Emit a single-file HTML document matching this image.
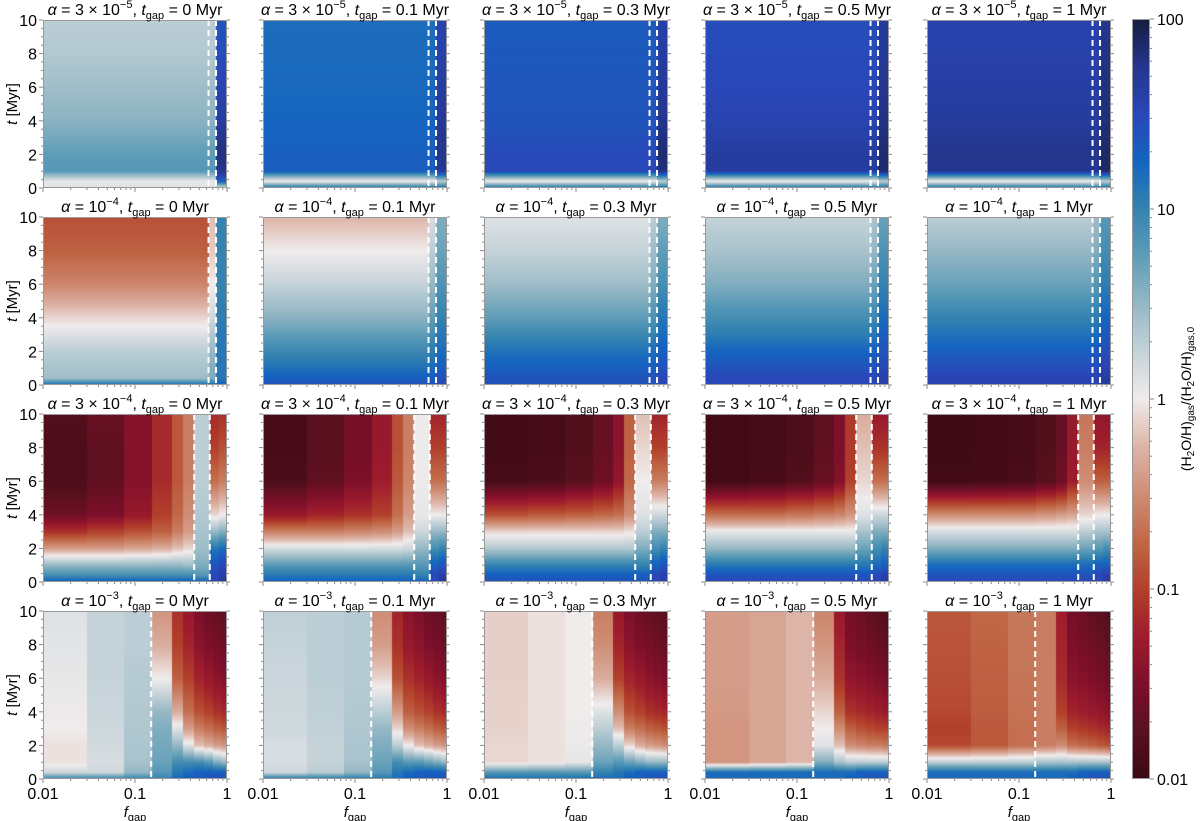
<!DOCTYPE html>
<html><head><meta charset="utf-8">
<style>
html,body{margin:0;padding:0;background:#fff;}
#wrap{position:relative;width:1200px;height:821px;overflow:hidden;font-family:"Liberation Sans","DejaVu Sans",sans-serif;}
canvas{position:absolute;}
svg{position:absolute;left:0;top:0;}
</style></head>
<body>
<div id="wrap">
<svg id="ov" width="1200" height="821"></svg>
</div>
<script>
// ---- data (log10 of ratio) ----
const T = [0,0.4,1,2,3,4,6,8,10];
const edgesR12 = [-2,-0.2,-0.12,0];
const edgesR3 = [-2,-1.52,-1.12,-0.82,-0.6,-0.48,-0.36,-0.19,-0.09,0];
const edgesR4 = [-2,-1.52,-1.12,-0.82,-0.6,-0.48,-0.36,-0.25,-0.15,-0.07,0];
const dashR12 = [0.63,0.76];
const dashR3 = [0.44,0.65];
const dashR4 = [0.15];
const alphaLabels = ["3e-5","1e-4","3e-4","1e-3"];
const tgapLabels = ["0","0.1","0.3","0.5","1"];

const r1c1=[[0.1,0.05,0.8,0.75,0.65,0.55,0.45,0.35,0.3],[0.1,0.05,0.8,0.75,0.65,0.55,0.45,0.35,0.3],[0.1,1.3,1.75,1.8,1.75,1.65,1.55,1.45,1.4]];
const r1c2=[[1.2,0,1.32,1.3,1.27,1.25,1.22,1.2,1.18],[1.2,0,1.32,1.3,1.27,1.25,1.22,1.2,1.18],[1.2,0.3,1.7,1.75,1.75,1.7,1.65,1.6,1.55]];
const r1c3=[[1.2,0,1.5,1.47,1.43,1.4,1.37,1.35,1.33],[1.2,0,1.5,1.47,1.43,1.4,1.37,1.35,1.33],[1.2,0.3,1.8,1.85,1.8,1.75,1.7,1.65,1.6]];
const r1c4=[[1.2,0,1.65,1.65,1.6,1.55,1.5,1.47,1.45],[1.2,0,1.65,1.65,1.6,1.55,1.5,1.47,1.45],[1.2,0.3,1.85,1.85,1.82,1.78,1.75,1.7,1.68]];
const r1c5=[[1.2,0,1.74,1.76,1.72,1.67,1.62,1.59,1.57],[1.2,0,1.74,1.76,1.72,1.67,1.62,1.59,1.57],[1.2,0.3,1.88,1.88,1.85,1.82,1.8,1.78,1.75]];
const r2c1=[[1.2,0.45,0.4,0.3,0.1,-0.1,-0.55,-0.8,-0.9],[1.2,0.6,0.6,0.5,0.35,0.2,0.0,-0.15,-0.2],[1.3,1.1,1.1,1.1,1.1,1.05,1.0,1.0,1.0]];
const r2c2=[[1.4,1.3,1.15,0.95,0.75,0.55,0.25,0,-0.25],[1.4,1.3,1.2,1.05,0.9,0.75,0.5,0.3,0.15],[1.5,1.4,1.3,1.2,1.1,1.0,0.85,0.7,0.6]];
const r2c3=[[1.4,1.4,1.3,1.15,0.95,0.75,0.45,0.25,0.1],[1.4,1.4,1.3,1.2,1.0,0.85,0.6,0.45,0.3],[1.5,1.5,1.4,1.3,1.2,1.1,0.9,0.75,0.6]];
const r2c4=[[1.5,1.5,1.4,1.25,1.05,0.9,0.6,0.4,0.25],[1.5,1.5,1.4,1.3,1.1,0.95,0.7,0.5,0.4],[1.6,1.6,1.5,1.4,1.3,1.2,1.0,0.85,0.7]];
const r2c5=[[1.55,1.55,1.45,1.3,1.15,1.0,0.7,0.5,0.3],[1.55,1.55,1.45,1.35,1.2,1.05,0.8,0.6,0.45],[1.65,1.65,1.55,1.45,1.35,1.25,1.05,0.9,0.8]];
const r3c1=[[1.3,0.9,0.5,-0.4,-1.1,-1.6,-1.85,-1.85,-1.8],[1.3,0.9,0.5,-0.4,-1.0,-1.5,-1.7,-1.7,-1.65],[1.3,0.9,0.5,-0.35,-0.9,-1.3,-1.45,-1.45,-1.45],[1.3,0.9,0.5,-0.3,-0.8,-1.0,-1.15,-1.15,-1.15],[1.3,0.9,0.5,-0.2,-0.6,-0.75,-0.85,-0.85,-0.85],[1.3,0.9,0.45,-0.1,-0.4,-0.5,-0.6,-0.6,-0.6],[1.3,0.8,0.6,0.45,0.4,0.35,0.3,0.3,0.3],[1.5,1.5,1.4,1.1,0.5,-0.1,-0.7,-1.0,-1.15],[1.7,1.6,1.5,1.2,0.6,0.0,-0.6,-0.9,-1.1]];
const r3c2=[[1.3,1.1,0.8,0.15,-0.6,-1.3,-1.85,-1.9,-1.9],[1.3,1.1,0.8,0.15,-0.6,-1.2,-1.7,-1.75,-1.75],[1.3,1.1,0.8,0.15,-0.55,-1.1,-1.5,-1.55,-1.55],[1.3,1.1,0.8,0.15,-0.5,-1.0,-1.25,-1.3,-1.3],[1.3,1.1,0.8,0.15,-0.4,-0.7,-0.85,-0.9,-0.9],[1.3,1.1,0.8,0.2,-0.2,-0.4,-0.55,-0.6,-0.6],[1.3,1.0,0.8,0.5,0.2,0.05,0.02,0.02,0.02],[1.5,1.5,1.3,0.9,0.5,0.0,-0.7,-1.0,-1.2],[1.7,1.6,1.4,1.0,0.5,0.0,-0.7,-1.0,-1.2]];
const r3c3=[[1.4,1.3,1.0,0.35,-0.1,-0.9,-1.9,-1.95,-1.95],[1.4,1.3,1.0,0.35,-0.1,-0.85,-1.85,-1.9,-1.9],[1.4,1.3,1.0,0.35,-0.1,-0.8,-1.75,-1.8,-1.8],[1.4,1.3,1.0,0.35,-0.1,-0.75,-1.6,-1.65,-1.65],[1.4,1.3,1.0,0.35,-0.1,-0.7,-1.35,-1.4,-1.4],[1.4,1.3,1.0,0.35,-0.05,-0.5,-0.75,-0.8,-0.8],[1.4,1.3,1.0,0.6,0.3,0.1,0,-0.1,-0.2],[1.5,1.5,1.3,0.9,0.6,0.2,-0.6,-1.0,-1.2],[1.6,1.6,1.4,1.0,0.6,0.2,-0.6,-1.0,-1.2]];
const r3c4=[[1.5,1.4,1.1,0.5,0.05,-0.7,-1.95,-1.95,-1.95],[1.5,1.4,1.1,0.5,0.05,-0.7,-1.9,-1.92,-1.92],[1.5,1.4,1.1,0.5,0.05,-0.65,-1.8,-1.85,-1.85],[1.5,1.4,1.1,0.5,0.05,-0.6,-1.65,-1.7,-1.7],[1.5,1.4,1.1,0.5,0.05,-0.55,-1.45,-1.5,-1.5],[1.5,1.4,1.1,0.5,0.05,-0.45,-1.0,-1.05,-1.05],[1.5,1.4,1.1,0.7,0.4,0.1,-0.1,-0.2,-0.3],[1.5,1.5,1.2,0.9,0.6,0.2,-0.7,-1.1,-1.3],[1.6,1.6,1.3,1.0,0.6,0.2,-0.7,-1.1,-1.3]];
const r3c5=[[1.5,1.4,1.2,0.6,0.15,-0.5,-1.95,-1.97,-1.97],[1.5,1.4,1.2,0.6,0.15,-0.5,-1.93,-1.95,-1.95],[1.5,1.4,1.2,0.6,0.15,-0.5,-1.88,-1.9,-1.9],[1.5,1.4,1.2,0.6,0.15,-0.45,-1.75,-1.8,-1.8],[1.5,1.4,1.2,0.6,0.15,-0.4,-1.6,-1.65,-1.65],[1.5,1.4,1.2,0.6,0.15,-0.35,-1.25,-1.3,-1.3],[1.5,1.4,1.2,0.7,0.3,-0.1,-0.5,-0.6,-0.65],[1.5,1.5,1.3,0.8,0.4,0,-0.8,-1.2,-1.35],[1.6,1.6,1.3,0.9,0.4,0,-0.8,-1.2,-1.35]];
const r4c1=[[1.0,0.2,-0.05,-0.05,0,0.02,0.05,0.08,0.1],[1.0,0.2,0.15,0.18,0.2,0.22,0.25,0.25,0.25],[1.0,0.5,0.4,0.38,0.36,0.35,0.33,0.3,0.3],[1.0,0.8,0.7,0.65,0.6,0.5,0,-0.3,-0.45],[1.2,1.1,0.9,0.5,0.1,-0.3,-0.8,-1.0,-1.1],[1.3,1.2,0.9,0.1,-0.4,-0.7,-1.0,-1.2,-1.3],[1.3,1.3,0.9,-0.2,-0.6,-0.9,-1.2,-1.4,-1.5],[1.4,1.3,0.8,-0.3,-0.7,-1.0,-1.3,-1.5,-1.6],[1.4,1.3,0.6,-0.4,-0.8,-1.1,-1.4,-1.55,-1.65],[1.4,1.3,0.5,-0.45,-0.85,-1.15,-1.45,-1.6,-1.7]];
const r4c2=[[1.1,0.2,0.15,0.15,0.2,0.2,0.22,0.25,0.28],[1.1,0.3,0.25,0.25,0.27,0.28,0.3,0.3,0.3],[1.1,0.5,0.4,0.38,0.36,0.35,0.33,0.33,0.33],[1.1,0.8,0.7,0.6,0.5,0.3,-0.1,-0.4,-0.5],[1.2,1.1,0.9,0.3,-0.1,-0.4,-0.9,-1.1,-1.2],[1.3,1.2,0.8,0,-0.5,-0.8,-1.1,-1.3,-1.4],[1.3,1.3,0.8,-0.2,-0.6,-0.9,-1.2,-1.4,-1.5],[1.4,1.3,0.7,-0.3,-0.7,-1.0,-1.3,-1.5,-1.6],[1.4,1.3,0.6,-0.4,-0.8,-1.1,-1.4,-1.55,-1.65],[1.4,1.3,0.5,-0.45,-0.85,-1.15,-1.45,-1.6,-1.7]];
const r4c3=[[1.2,0.8,-0.1,-0.1,-0.12,-0.12,-0.13,-0.13,-0.13],[1.2,0.8,-0.05,-0.05,-0.05,-0.05,-0.05,-0.05,-0.05],[1.2,0.8,0.05,0.03,0.02,0,0,0,0],[1.2,1.0,0.7,0.5,0.3,0.1,-0.3,-0.5,-0.6],[1.2,1.1,0.8,0.3,-0.2,-0.5,-1.0,-1.2,-1.3],[1.3,1.2,0.7,-0.1,-0.6,-0.9,-1.2,-1.4,-1.5],[1.3,1.3,0.6,-0.3,-0.7,-1.0,-1.3,-1.5,-1.6],[1.4,1.3,0.5,-0.4,-0.8,-1.1,-1.4,-1.55,-1.65],[1.4,1.3,0.5,-0.45,-0.85,-1.15,-1.45,-1.6,-1.7],[1.4,1.3,0.5,-0.5,-0.9,-1.2,-1.5,-1.65,-1.75]];
const r4c4=[[1.2,1.2,-0.45,-0.45,-0.45,-0.42,-0.4,-0.4,-0.4],[1.2,1.2,-0.35,-0.35,-0.35,-0.35,-0.35,-0.35,-0.35],[1.2,1.2,-0.25,-0.25,-0.25,-0.25,-0.25,-0.25,-0.25],[1.2,1.2,0.6,0.1,0,-0.1,-0.3,-0.45,-0.55],[1.2,1.2,0.4,-0.2,-0.5,-0.8,-1.1,-1.2,-1.3],[1.3,1.2,0.3,-0.5,-0.8,-1.1,-1.35,-1.5,-1.55],[1.3,1.3,0.3,-0.55,-0.9,-1.15,-1.4,-1.55,-1.6],[1.4,1.3,0.3,-0.6,-0.95,-1.2,-1.45,-1.6,-1.7],[1.4,1.3,0.3,-0.6,-1.0,-1.25,-1.5,-1.65,-1.75],[1.4,1.3,0.3,-0.65,-1.0,-1.3,-1.55,-1.7,-1.8]];
const r4c5=[[1.2,1.2,0.3,-0.95,-1.0,-0.95,-0.9,-0.88,-0.85],[1.2,1.2,0.3,-0.85,-0.85,-0.82,-0.8,-0.78,-0.75],[1.2,1.2,0.3,-0.7,-0.7,-0.68,-0.66,-0.65,-0.65],[1.2,1.2,0.4,-0.6,-0.6,-0.6,-0.6,-0.6,-0.6],[1.2,1.2,0.4,-0.5,-0.8,-1.0,-1.15,-1.2,-1.25],[1.3,1.2,0.4,-0.7,-1.0,-1.2,-1.4,-1.5,-1.55],[1.3,1.3,0.4,-0.75,-1.05,-1.25,-1.45,-1.55,-1.6],[1.4,1.3,0.4,-0.8,-1.1,-1.3,-1.5,-1.6,-1.7],[1.4,1.3,0.4,-0.85,-1.15,-1.35,-1.55,-1.65,-1.75],[1.4,1.3,0.4,-0.9,-1.2,-1.4,-1.6,-1.7,-1.8]];

const panelData = [[r1c1,r1c2,r1c3,r1c4,r1c5],[r2c1,r2c2,r2c3,r2c4,r2c5],[r3c1,r3c2,r3c3,r3c4,r3c5],[r4c1,r4c2,r4c3,r4c4,r4c5]];
const rowEdges = [edgesR12,edgesR12,edgesR3,edgesR4];
const rowDashes = [dashR12,dashR12,dashR3,dashR4];

// ---- layout ----
const X0=[43,263,484,705,927], PW=184;
const Y0=[20,217,414,611], PH=168;
const CB={x:1132,y:19,w:18,h:760};
const stops=[[-2,'#3c0913'],[-1.75,'#58101e'],[-1.5,'#7d0f2a'],[-1.25,'#9e1c2c'],[-1,'#b2402b'],[-0.75,'#c16848'],[-0.5,'#cf8d75'],[-0.25,'#ddb5a8'],[0,'#f0ecec'],[0.25,'#c5d3d9'],[0.5,'#96b8c5'],[0.75,'#5f9db8'],[1,'#3483b0'],[1.25,'#1565c0'],[1.5,'#2a47b8'],[1.75,'#24368f'],[2,'#161d3f']];
function hex(h){return [parseInt(h.substr(1,2),16),parseInt(h.substr(3,2),16),parseInt(h.substr(5,2),16)];}
function cmap(v){v=Math.max(-2,Math.min(2,v));for(let i=0;i<stops.length-1;i++){if(v<=stops[i+1][0]){const a=hex(stops[i][1]),b=hex(stops[i+1][1]);const f=(v-stops[i][0])/(stops[i+1][0]-stops[i][0]);return 'rgb('+a.map((c,k)=>Math.round(c+(b[k]-c)*f)).join(',')+')';}}return stops[stops.length-1][1];}
function interp(prof,t){for(let i=0;i<T.length-1;i++){if(t<=T[i+1]){const f=(t-T[i])/(T[i+1]-T[i]);return prof[i]+(prof[i+1]-prof[i])*f;}}return prof[prof.length-1];}

const wrap=document.getElementById('wrap');
const ov=document.getElementById('ov');
const NS='http://www.w3.org/2000/svg';
function el(tag,attrs,parent){const e=document.createElementNS(NS,tag);for(const k in attrs)e.setAttribute(k,attrs[k]);(parent||ov).appendChild(e);return e;}
function xs(c,lf){return X0[c]+(lf+2)/2*PW;}
function ys(r,t){return Y0[r]+PH-t/10*PH;}

for(let r=0;r<4;r++){for(let c=0;c<5;c++){
  const cv=document.createElement('canvas');
  cv.width=PW;cv.height=PH;cv.style.left=X0[c]+'px';cv.style.top=Y0[r]+'px';
  
  
  wrap.insertBefore(cv,ov);
  const ctx=cv.getContext('2d');
  const ed=rowEdges[r], profs=panelData[r][c];
  for(let b=0;b<profs.length;b++){
    const xa=Math.round(xs(c,ed[b])-X0[c]), xb=Math.round(xs(c,ed[b+1])-X0[c]);
    for(let py=0;py<PH;py++){
      const t=(PH-py-0.5)/PH*10;
      ctx.fillStyle=cmap(interp(profs[b],t));
      ctx.fillRect(xa,py,xb-xa,1);
    }
  }
  const g=el('g',{});
  
  
  for(const d of rowDashes[r]){
    const x=xs(c,Math.log10(d));
    const ln=el('line',{x1:x,x2:x,y1:Y0[r],y2:Y0[r]+PH,stroke:'#fff','stroke-width':2,'stroke-dasharray':'6,4'},g);
    
    
  }
  el('rect',{x:X0[c]+0.5,y:Y0[r]+0.5,width:PW-1,height:PH-1,fill:'none',stroke:'#999','stroke-width':1},g);
  for(let t=0;t<=10;t+=0.5){const y=ys(r,t);const maj=(t%2===0);
    el('line',{x1:X0[c]-(maj?4:2),x2:X0[c],y1:y,y2:y,stroke:'#888','stroke-width':1},g);
    el('line',{x1:X0[c]+PW,x2:X0[c]+PW+(maj?3:2),y1:y,y2:y,stroke:'#888','stroke-width':1},g);
    if(c===0&&maj){const tx=el('text',{x:X0[c]-6,y:y+6,'text-anchor':'end','font-size':16,fill:'#000'},g);tx.textContent=t;
      }
  }
  for(let d=-2;d<0;d++){for(let m=1;m<10;m++){const x=xs(c,d+Math.log10(m));
    el('line',{x1:x,x2:x,y1:Y0[r]+PH,y2:Y0[r]+PH+(m===1?4:2),stroke:'#888','stroke-width':1},g);}}
  el('line',{x1:xs(c,0),x2:xs(c,0),y1:Y0[r]+PH,y2:Y0[r]+PH+4,stroke:'#888','stroke-width':1},g);
  if(r===3){[['0.01',-2],['0.1',-1],['1',0]].forEach(([s,v])=>{const tx=el('text',{x:xs(c,v),y:Y0[r]+PH+20,'text-anchor':'middle','font-size':16},g);tx.textContent=s;
      });
    const xl=el('text',{x:X0[c]+PW/2,y:Y0[r]+PH+38,'text-anchor':'middle','font-size':15},g);
    xl.innerHTML='<tspan font-style="italic">f</tspan><tspan font-size="11" dy="4">gap</tspan>';
    }
  if(c===0){const yl=el('text',{x:0,y:0,transform:'translate(17,'+(Y0[r]+PH/2)+') rotate(-90)','text-anchor':'middle','font-size':15},g);
    yl.innerHTML='<tspan font-style="italic">t</tspan> [Myr]';
    }
  const al=alphaLabels[r];const pre=al.startsWith('3')?'3 × 10':'10';const ex=al.split('e')[1].replace('-','−');
  const ti=el('text',{x:X0[c]+PW/2,y:Y0[r]-5,'text-anchor':'middle','font-size':16},g);
  ti.innerHTML='<tspan font-style="italic">α</tspan> = '+pre+'<tspan font-size="11" dy="-7">'+ex+'</tspan><tspan dy="7">, </tspan><tspan font-style="italic">t</tspan><tspan font-size="11" dy="4">gap</tspan><tspan dy="-4"> = '+tgapLabels[c]+' Myr</tspan>';
  
}}

const cbc=document.createElement('canvas');cbc.width=CB.w;cbc.height=CB.h;cbc.style.left=CB.x+'px';cbc.style.top=CB.y+'px';


wrap.insertBefore(cbc,ov);
const cctx=cbc.getContext('2d');
for(let py=0;py<CB.h;py++){cctx.fillStyle=cmap(2-4*(py+0.5)/CB.h);cctx.fillRect(0,py,CB.w,1);}
el('rect',{x:CB.x+0.5,y:CB.y+0.5,width:CB.w-1,height:CB.h-1,fill:'none',stroke:'#999'});
const cbLabels=['100','10','1','0.1','0.01'];
for(let d=2;d>=-2;d--){const y=CB.y+(2-d)/4*CB.h;
  el('line',{x1:CB.x+CB.w,x2:CB.x+CB.w+4,y1:y,y2:y,stroke:'#888'});
  const tx=el('text',{x:CB.x+CB.w+7,y:y+6,'font-size':16});tx.textContent=cbLabels[2-d];
  
  if(d>-2)for(let m=2;m<10;m++){const yy=CB.y+(2-(d-1+Math.log10(m)))/4*CB.h;el('line',{x1:CB.x+CB.w,x2:CB.x+CB.w+2,y1:yy,y2:yy,stroke:'#888'});}
}
const cbt=el('text',{x:0,y:0,transform:'translate(1191,399) rotate(-90)','text-anchor':'middle','font-size':14});
cbt.innerHTML='(H<tspan font-size="10" dy="3">2</tspan><tspan dy="-3">O/H)</tspan><tspan font-size="10" dy="3">gas</tspan><tspan dy="-3">/(H</tspan><tspan font-size="10" dy="3">2</tspan><tspan dy="-3">O/H)</tspan><tspan font-size="10" dy="3">gas,0</tspan>';


</script>
</body></html>
